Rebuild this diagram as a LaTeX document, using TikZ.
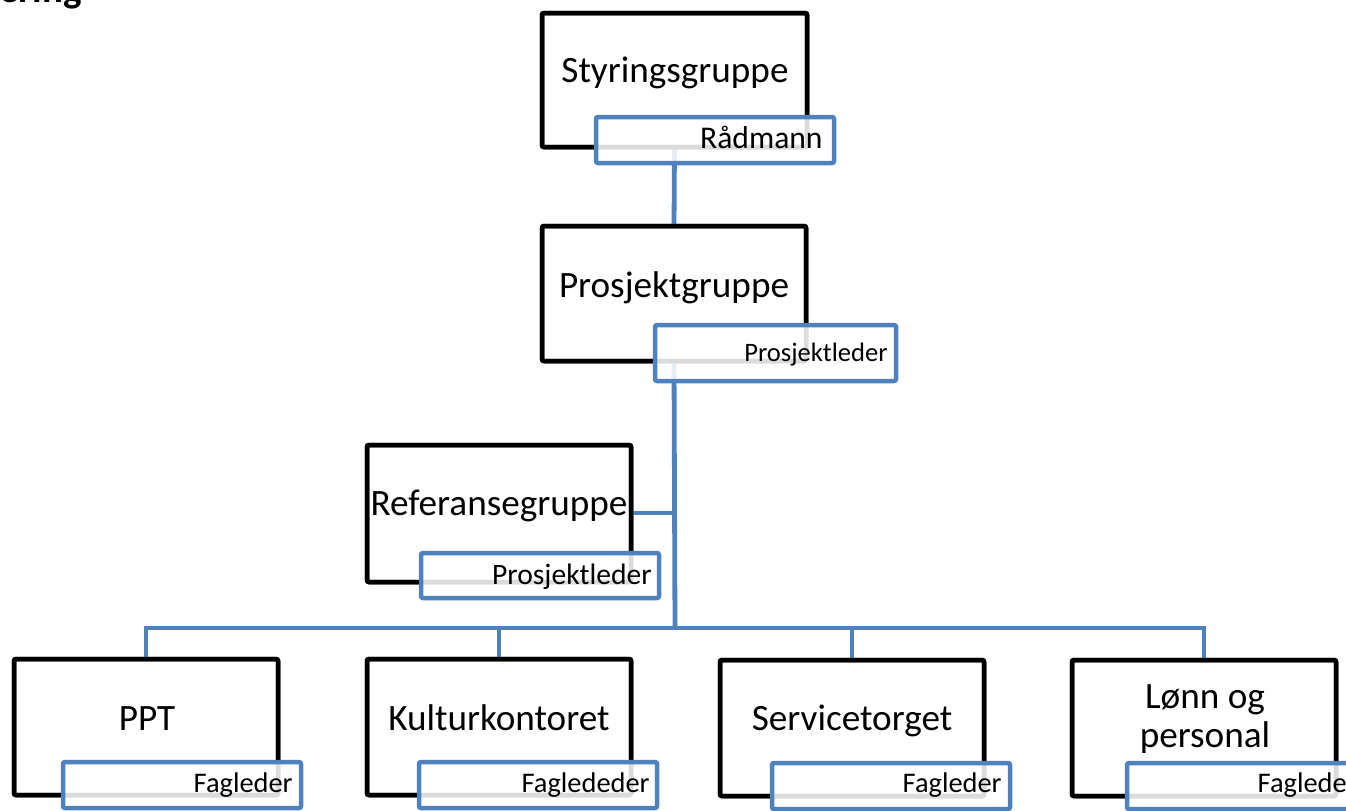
\documentclass[tikz,border=0pt]{standalone}
\usepackage{fontspec}
\setmainfont{Carlito}
\definecolor{obl}{HTML}{4F81BD}
\begin{document}
\begin{tikzpicture}[x=0.5pt,y=-0.5pt,
  box/.style={draw=black, fill=white, line width=2.25pt, rounded corners=1pt, inner sep=0, outer sep=0, anchor=north west, minimum width=132pt, minimum height=68pt},
  lbl/.style={draw=obl, line width=2.25pt, fill=white, fill opacity=0.86, text opacity=1, rounded corners=1pt, inner sep=0, outer sep=0, anchor=north west, minimum width=119pt, minimum height=23pt},
  conn/.style={draw=obl, line width=2.4pt},
  big/.style={font=\fontsize{18.6}{19.5}\selectfont, inner sep=0, anchor=base},
  small/.style={font=\fontsize{14.2}{16}\selectfont, inner sep=0, anchor=base east},
]
\useasboundingbox (0,0) rectangle (1346,810);
\clip (0,0) rectangle (1346,810);

% title (cut off at top)
\node[font=\bfseries\fontsize{19.5}{23}\selectfont, inner sep=0, anchor=base east] (title) at (82,2.5) {Organisering};

% boxes
\node[box, minimum width=132.5pt, minimum height=67pt] (sty) at (542,13) {};
\node[box, minimum height=67.5pt] (pro) at (542,226) {};
\node[box, minimum height=68.5pt] (ref) at (367,445) {};
\node[box] (ppt) at (14,659) {};
\node[box] (kul) at (367,659) {};
\node[box] (ser) at (720,660) {};
\node[box] (lon) at (1072,660) {};

% connectors
\coordinate (bus) at (675,628);
\coordinate (refj) at (675,513);
\draw[conn] (sty.south) -- (pro.north);
\draw[conn] (pro.south) -- (bus);
\draw[conn] (ref.east |- refj) -- (refj);
\draw[conn] (bus) -| (ppt.north);
\draw[conn] (bus) -| (kul.north);
\draw[conn] (bus) -| (ser.north);
\draw[conn] (bus) -| (lon.north);

% redraw box borders over connector ends
\foreach \n in {sty,pro,ref,ppt,kul,ser,lon}{
  \draw[black, line width=2.25pt, rounded corners=1pt] (\n.north west) rectangle (\n.south east);
}

% box texts
\node[big] (styt) at (675,82) {Styringsgruppe};
\node[big] (prot) at (674,297) {Prosjektgruppe};
\node[big] (reft) at (499,515) {Referansegruppe};
\node[big] (pptt) at (147,730) {PPT};
\node[big] (kult) at (499,730) {Kulturkontoret};
\node[big] (sert) at (852,730) {Servicetorget};
\node[big, align=center] (lont) at (1205,747) {Lønn og\\personal};

% labels
\node[lbl] (rad) at (596,117) {};
\node[lbl, minimum width=120.5pt, minimum height=28pt] (pl1) at (655,325) {};
\node[lbl, minimum height=22.5pt] (pl2) at (421,553) {};
\node[lbl] (f1) at (63,762) {};
\node[lbl] (f2) at (419,762) {};
\node[lbl] (f3) at (772,763) {};
\node[lbl] (f4) at (1127,763) {};

\node[small, font=\fontsize{15.8}{18}\selectfont] (radt) at (823,148) {Rådmann};
\node[small, font=\fontsize{13.3}{15}\selectfont] (pl1t) at (888,361) {Prosjektleder};
\node[small, font=\fontsize{14.8}{17}\selectfont] (pl2t) at (652,584) {Prosjektleder};
\node[small] (f1t) at (293,792) {Fagleder};
\node[small] (f2t) at (650,792) {Faglededer};
\node[small] (f3t) at (1002,792) {Fagleder};
\node[small] (f4t) at (1357,792) {Fagleder};
\end{tikzpicture}
\end{document}
